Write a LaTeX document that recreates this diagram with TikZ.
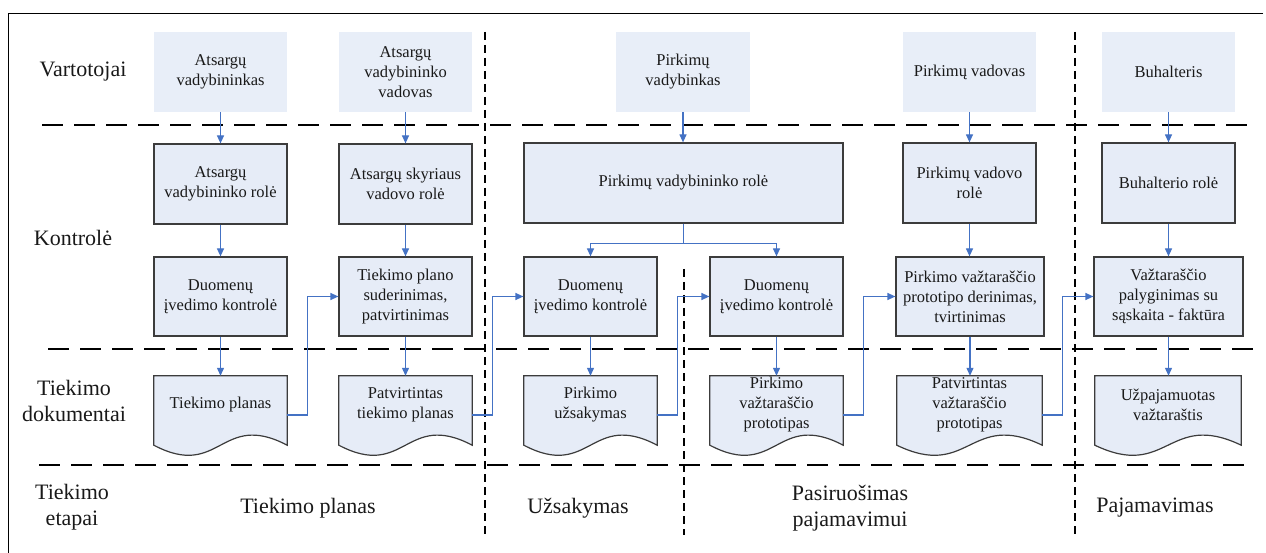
\documentclass[tikz,border=0pt]{standalone}
\usepackage{fontspec}
\setmainfont{Liberation Serif}
\usetikzlibrary{calc, arrows.meta, backgrounds}

\definecolor{boxfill}{RGB}{230,236,247}
\definecolor{userfill}{RGB}{232,238,248}
\definecolor{flowblue}{RGB}{68,114,196}
\definecolor{edgegray}{RGB}{60,60,60}
\newcommand\cellfont{\fontsize{16.5}{20}\selectfont}
\newcommand\lanefont{\fontsize{22}{26}\selectfont}

\begin{document}
\begin{tikzpicture}[x=1pt, y=-1pt, text=black!90,
  box/.style={draw=edgegray, line width=1.2pt, fill=boxfill, align=center,
    inner sep=2pt, minimum width=133pt, font=\cellfont},
  user/.style={fill=userfill, align=center, inner sep=2pt,
    minimum width=133pt, minimum height=80pt, font=\cellfont},
  role/.style={box, minimum height=80pt},
  ctrl/.style={box, minimum height=79pt},
  doc/.style={align=center, inner sep=0pt, minimum width=133pt,
    minimum height=58pt, font=\cellfont},
  flow/.style={draw=flowblue, line width=1.2pt, -{Triangle[length=8pt, width=7pt]}},
  lane/.style={line width=2.5pt, dash pattern=on 21pt off 11pt},
  stage/.style={line width=2pt, dash pattern=on 8pt off 5pt},
  lbl/.style={align=center, font=\lanefont}]

  \useasboundingbox (0,0) rectangle (1266,553);

  % remelis
  \draw[line width=1.5pt] (1263,13.5) -- (8.5,13.5) -- (8.5,553);

  % juostos ir etapu ribos
  \draw[lane] (42,125) -- (1250,125);
  \draw[lane] (48,349) -- (1255,349);
  \draw[lane] (39,465) -- (1255,465);
  \draw[stage] (485,32) -- (485,535);
  \draw[stage] (684,269) -- (684,535);
  \draw[stage] (1075,32) -- (1075,535);

  % eiluciu pavadinimai
  \node[lbl] (vart)  at (83,72)  {Vartotojai};
  \node[lbl] (kontr) at (73,238) {Kontrolė};
  \node[lbl] (tdok)  at (74,401) {Tiekimo\\dokumentai};
  \node[lbl] (tet)   at (72,507) {Tiekimo\\etapai};

  % vartotojai
  \node[user] (u1) at (220.5,72) {Atsargų\\vadybininkas};
  \node[user] (u2) at (405.5,72) {Atsargų\\vadybininko\\vadovas};
  \node[user, minimum width=134pt] (u3) at (683,72) {Pirkimų\\vadybinkas};
  \node[user] (u5) at (969.5,72) {Pirkimų vadovas};
  \node[user] (u6) at (1168.5,72) {Buhalteris};

  % roles
  \node[role] (r1) at (220.5,184) {Atsargų\\vadybininko rolė};
  \node[role] (r2) at (405.5,184) {Atsargų skyriaus\\vadovo rolė};
  \node[role, minimum width=319pt] (r3) at (683.5,183) {Pirkimų vadybininko rolė};
  \node[role] (r5) at (969.5,183) {Pirkimų vadovo\\rolė};
  \node[role] (r6) at (1168.5,183) {Buhalterio rolė};

  % kontrole
  \node[ctrl] (c1) at (220.5,296.5) {Duomenų\\įvedimo kontrolė};
  \node[ctrl] (c2) at (405.5,296.5) {Tiekimo plano\\suderinimas,\\patvirtinimas};
  \node[ctrl] (c3) at (590.5,296.5) {Duomenų\\įvedimo kontrolė};
  \node[ctrl] (c4) at (776.5,296.5) {Duomenų\\įvedimo kontrolė};
  \node[ctrl, minimum width=148pt] (c5) at (970,296.5)
    {Pirkimo važtaraščio\\prototipo derinimas,\\tvirtinimas};
  \node[ctrl, minimum width=149pt] (c6) at (1168.5,296.5)
    {Važtaraščio\\palyginimas su\\sąskaita - faktūra};

  % dokumentai
  \node[doc] (d1) at (220.5,405) {Tiekimo planas};
  \node[doc] (d2) at (405.5,405) {Patvirtintas\\tiekimo planas};
  \node[doc] (d3) at (590.5,405) {Pirkimo\\užsakymas};
  \node[doc] (d4) at (776.5,405) {Pirkimo\\važtaraščio\\prototipas};
  \node[doc, minimum width=145pt] (d5) at (969.5,405) {Patvirtintas\\važtaraščio\\prototipas};
  \node[doc, minimum width=146pt] (d6) at (1168,405) {Užpajamuotas\\važtaraštis};

  \begin{scope}[on background layer]
    \foreach \d in {d1,d2,d3,d4,d5,d6}
      \filldraw[fill=boxfill, draw=edgegray, line width=1.2pt]
        (\d.north west) -- ($(\d.south west)+(0,-11pt)$)
        .. controls ($(\d.south)+(0,-46pt)$) and ($(\d.south)+(0,24pt)$) ..
        ($(\d.south east)+(0,-11pt)$) -- (\d.north east) -- cycle;
  \end{scope}

  % etapai
  \node[lbl] (s1) at (308,508)  {Tiekimo planas};
  \node[lbl] (s2) at (578,508)  {Užsakymas};
  \node[lbl] (s3) at (850,508)  {Pasiruošimas\\pajamavimui};
  \node[lbl] (s4) at (1155,508) {Pajamavimas};

  % rodykles
  \foreach \a/\b in {u1/r1, u2/r2, u3/r3, u5/r5, u6/r6,
                     r1/c1, r2/c2, r5/c5, r6/c6,
                     c1/d1, c2/d2, c3/d3, c4/d4, c5/d5, c6/d6}
    \draw[flow] (\a.south) -- (\a.south |- \b.north);
  \draw[flow] (r3.south) -- ++(0,20) -| (c3.north);
  \draw[flow] (r3.south) -- ++(0,20) -| (c4.north);
  \foreach \a/\b in {d1/c2, d2/c3, d3/c4, d4/c5, d5/c6}
    \draw[flow] ([yshift=-10pt]\a.east) -- ++(20,0) |- (\b.west);
\end{tikzpicture}
\end{document}
